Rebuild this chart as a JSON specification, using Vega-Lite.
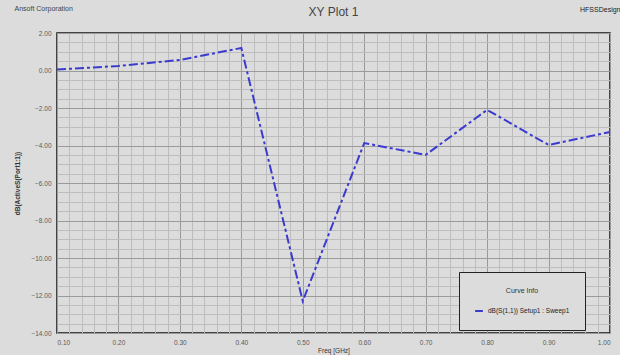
{
  "$schema": "https://vega.github.io/schema/vega-lite/v6.json",
  "width": 553,
  "height": 300,
  "autosize": {"type": "none"},
  "padding": {"left": 57, "top": 33, "right": 10, "bottom": 22},
  "background": "#dcdcdc",
  "title": {"text": "XY Plot 1", "fontSize": 12, "font": "Liberation Sans", "fontWeight": "normal", "color": "#444444", "offset": -15, "anchor": "middle"},
  "data": {"values": [
    {"freq": 0.1, "db": 0.05},
    {"freq": 0.2, "db": 0.24},
    {"freq": 0.3, "db": 0.56},
    {"freq": 0.4, "db": 1.2},
    {"freq": 0.5, "db": -12.3},
    {"freq": 0.6, "db": -3.87},
    {"freq": 0.7, "db": -4.5},
    {"freq": 0.8, "db": -2.1},
    {"freq": 0.9, "db": -3.97},
    {"freq": 1.0, "db": -3.28}
  ]},
  "config": {
    "view": {"stroke": "#111111", "strokeWidth": 1.5, "fill": "#dcdcdc"},
    "axis": {"labelFont": "Liberation Sans", "titleFont": "Liberation Sans", "labelColor": "#5a5a5a", "labelFontSize": 6.5, "titleColor": "#333333", "titleFontSize": 7, "titleFontWeight": "normal"}
  },
  "resolve": {"axis": {"x": "independent", "y": "independent"}, "scale": {"x": "shared", "y": "shared"}},
  "layer": [
    {
      "mark": {"type": "line", "strokeOpacity": 0},
      "encoding": {
        "x": {"field": "freq", "type": "quantitative", "scale": {"domain": [0.1, 1.0], "nice": false, "zero": false},
          "axis": {"orient": "top", "values": [0.1,0.12,0.14,0.16,0.18,0.2,0.22,0.24,0.26,0.28,0.3,0.32,0.34,0.36,0.38,0.4,0.42,0.44,0.46,0.48,0.5,0.52,0.54,0.56,0.58,0.6,0.62,0.64,0.66,0.68,0.7,0.72,0.74,0.76,0.78,0.8,0.82,0.84,0.86,0.88,0.9,0.92,0.94,0.96,0.98,1.0],
            "grid": true, "gridColor": "#bdbdbd", "gridWidth": 1, "gridOpacity": 1, "labels": false, "ticks": false, "domain": false,
            "title": "Ansoft Corporation", "titleAnchor": "start", "titleAlign": "left", "titleX": -43, "titleY": -22, "titleFontSize": 7, "titleColor": "#444444"}},
        "y": {"field": "db", "type": "quantitative", "scale": {"domain": [-14, 2], "nice": false, "zero": false},
          "axis": {"orient": "right", "values": [2,1.5,1,0.5,0,-0.5,-1,-1.5,-2,-2.5,-3,-3.5,-4,-4.5,-5,-5.5,-6,-6.5,-7,-7.5,-8,-8.5,-9,-9.5,-10,-10.5,-11,-11.5,-12,-12.5,-13,-13.5,-14],
            "grid": true, "gridColor": "#bdbdbd", "gridWidth": 1, "gridOpacity": 1, "labels": false, "ticks": false, "domain": false,
            "title": "HFSSDesign", "titleAngle": 0, "titleAlign": "right", "titleBaseline": "middle", "titleX": 10, "titleY": -24, "titleFontSize": 7, "titleColor": "#222222"}}
      }
    },
    {
      "mark": {"type": "line", "color": "#3a3ad0", "strokeWidth": 2, "strokeDash": [9, 3, 3, 3]},
      "encoding": {
        "x": {"field": "freq", "type": "quantitative",
          "axis": {"orient": "bottom", "values": [0.1,0.2,0.3,0.4,0.5,0.6,0.7,0.8,0.9,1.0], "format": ".2f",
            "grid": true, "gridColor": "#9a9a9a", "gridWidth": 1, "gridOpacity": 1, "ticks": false, "domain": false, "labelPadding": 6,
            "title": "Freq [GHz]", "titlePadding": 2, "titleFontSize": 6.5}},
        "y": {"field": "db", "type": "quantitative",
          "axis": {"orient": "left", "values": [2,0,-2,-4,-6,-8,-10,-12,-14], "format": ".2f",
            "grid": true, "gridColor": "#9a9a9a", "gridWidth": 1, "gridOpacity": 1, "ticks": false, "domain": false, "labelPadding": 6,
            "title": "dB(ActiveS(Port1:1))", "titlePadding": 10, "titleFontSize": 6.5, "titleFontWeight": "bold"}},
        "stroke": {"datum": "dB(S(1,1)) Setup1 : Sweep1", "type": "nominal",
          "scale": {"range": ["#3a3ad0"]},
          "legend": {"orient": "none", "legendX": 402, "legendY": 239, "title": "Curve Info", "titleFontSize": 7, "titleFontWeight": "normal", "titleColor": "#333333", "titleAnchor": "middle", "titlePadding": 12,
            "labelFontSize": 6.5, "labelColor": "#222222", "symbolType": "stroke", "symbolSize": 60, "symbolStrokeWidth": 2,
            "strokeColor": "#222222", "fillColor": "#dcdcdc", "padding": 15}}
      }
    }
  ]
}
